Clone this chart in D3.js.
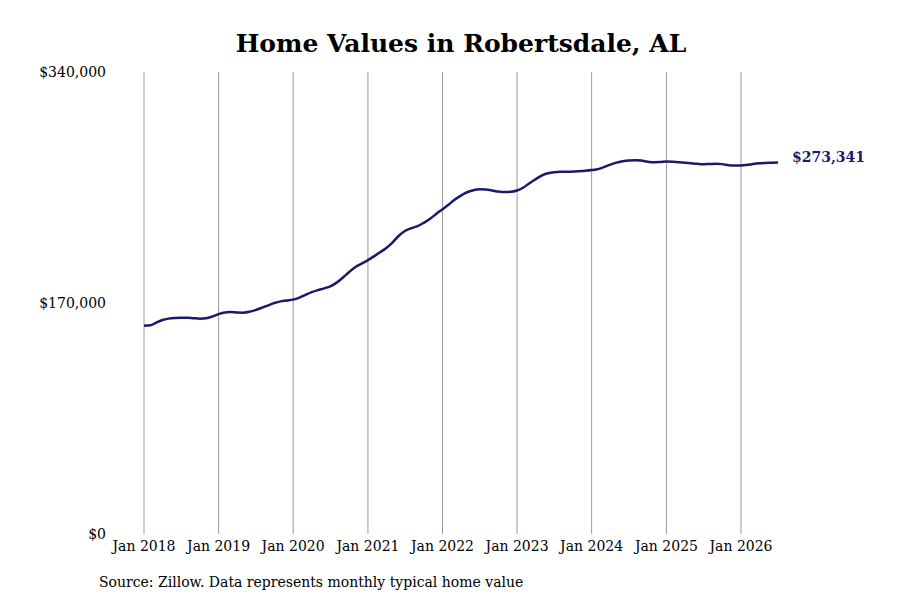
<!DOCTYPE html>
<html>
<head>
<meta charset="utf-8">
<script src="https://cdn.jsdelivr.net/npm/d3@7"></script>
<style>
  body { margin: 0; background: #fff; }
  text { font-family: "DejaVu Serif", serif; }
</style>
</head>
<body>
<div id="chart"></div>
<script>
// monthly typical home value, Jan 2018 .. Jul 2026 (thousands of dollars)
var startMonth = "2018-01";
var values = [
  153.3, 153.6, 155.5, 157.5, 158.5, 159.0, 159.2, 159.2, 158.8, 158.5, 158.8, 160.0,
  161.8, 163.0, 163.3, 163.0, 162.9, 163.5, 164.8, 166.5, 168.3, 170.0, 171.2, 171.8,
  172.5, 174.0, 176.0, 178.0, 179.5, 180.8, 182.3, 185.0, 188.8, 192.8, 196.5, 199.0,
  201.5, 204.5, 207.3, 210.5, 214.5, 219.5, 223.0, 225.0, 226.5, 229.0, 232.0, 235.5,
  239.0, 242.5, 246.0, 249.0, 251.5, 253.0, 253.8, 253.5, 252.8, 252.0, 251.6, 251.8,
  252.8, 255.0, 258.0, 261.0, 263.8, 265.5, 266.3, 266.5, 266.5, 266.7, 267.0, 267.3,
  267.8, 268.5, 270.0, 271.8, 273.3, 274.3, 274.9, 275.1, 274.8, 274.0, 273.6, 273.7,
  274.1, 274.0, 273.6, 273.2, 272.8, 272.4, 272.1, 272.3, 272.5, 272.2, 271.4, 271.1,
  271.2, 271.7, 272.3, 272.8, 273.1, 273.2, 273.341
];
var yTicks = [0, 170000, 340000];
var xTickYears = [2018, 2019, 2020, 2021, 2022, 2023, 2024, 2025, 2026];
var lastLabel = "$273,341";

var width = 900, height = 600;

var svg = d3.select("#chart")
  .append("svg")
  .attr("width", width)
  .attr("height", height);

var parseMonth = d3.timeParse("%Y-%m");
var start = parseMonth(startMonth);
var data = values.map(function(v, i) {
  return { date: d3.timeMonth.offset(start, i), value: v * 1000 };
});

var x = d3.scaleTime()
  .domain([new Date(2018, 0, 1), new Date(2026, 0, 1)])
  .range([144, 741]);

var y = d3.scaleLinear()
  .domain([0, 340000])
  .range([534, 72]);

// title
svg.append("text")
  .attr("x", 461)
  .attr("y", 52)
  .attr("text-anchor", "middle")
  .attr("font-size", 25)
  .attr("font-weight", "bold")
  .text("Home Values in Robertsdale, AL");

// vertical grid lines + x labels
var xTickDates = xTickYears.map(function(yr) { return new Date(yr, 0, 1); });
svg.append("g")
  .selectAll("line")
  .data(xTickDates)
  .enter()
  .append("line")
  .attr("x1", d => x(d))
  .attr("x2", d => x(d))
  .attr("y1", y(340000))
  .attr("y2", y(0))
  .attr("stroke", "#999")
  .attr("stroke-width", 1);

svg.append("g")
  .selectAll("text")
  .data(xTickDates)
  .enter()
  .append("text")
  .attr("x", d => x(d))
  .attr("y", 551)
  .attr("text-anchor", "middle")
  .attr("font-size", 14)
  .text(d => d3.timeFormat("Jan %Y")(d));

// y labels
svg.append("g")
  .selectAll("text")
  .data(yTicks)
  .enter()
  .append("text")
  .attr("x", 106)
  .attr("y", d => y(d))
  .attr("dy", "0.35em")
  .attr("text-anchor", "end")
  .attr("font-size", 14)
  .text(d => d3.format("$,")(d));

// line
var line = d3.line()
  .x(d => x(d.date))
  .y(d => y(d.value))
  .curve(d3.curveMonotoneX);

svg.append("path")
  .datum(data)
  .attr("d", line)
  .attr("fill", "none")
  .attr("stroke", "#1a1a6b")
  .attr("stroke-width", 2.5);

// end label
var last = data[data.length - 1];
svg.append("text")
  .attr("x", x(last.date) + 14)
  .attr("y", y(last.value) - 5)
  .attr("dy", "0.35em")
  .attr("font-size", 14)
  .attr("font-weight", "bold")
  .attr("fill", "#1a1a6b")
  .text(lastLabel);

// source
svg.append("text")
  .attr("x", 99)
  .attr("y", 587)
  .attr("font-size", 14)
  .text("Source: Zillow. Data represents monthly typical home value");
</script>
</body>
</html>
